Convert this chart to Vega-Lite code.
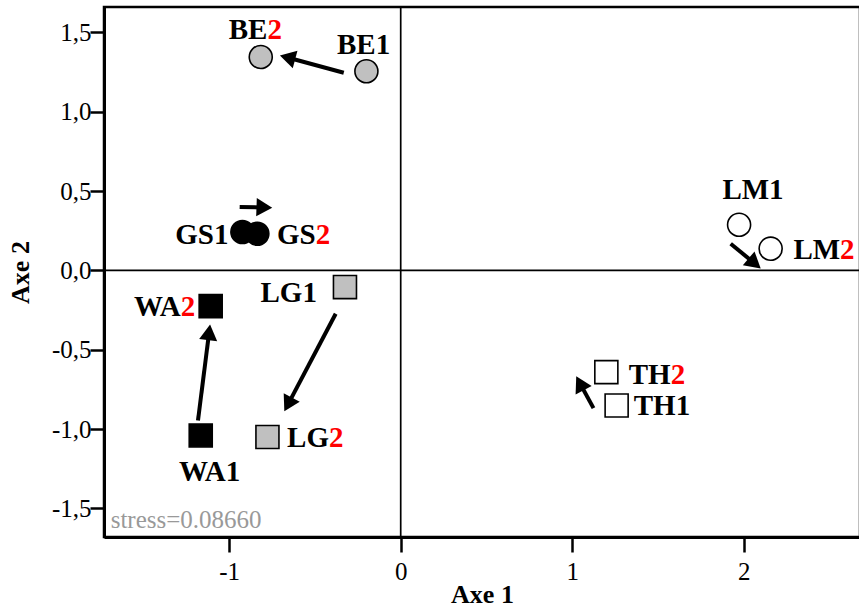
{
  "$schema": "https://vega.github.io/schema/vega-lite/v6.json",
  "width": 756,
  "height": 530,
  "autosize": {"type": "none"},
  "padding": {"left": 104, "top": 7, "right": 0, "bottom": 75},
  "background": "white",
  "config": {
    "view": {"stroke": "black", "strokeWidth": 2.5},
    "font": "Liberation Serif",
    "axis": {
      "grid": false,
      "domainColor": "black", "domainWidth": 3,
      "tickColor": "black", "tickWidth": 2.5,
      "labelFont": "Liberation Serif", "labelFontSize": 25, "labelColor": "black",
      "titleFont": "Liberation Serif", "titleFontSize": 26, "titleFontWeight": "bold", "titleColor": "black"
    }
  },
  "datasets": {
    "points": [
      {"id": "BE1", "g": "BE", "x": -0.200, "y": 1.255},
      {"id": "BE2", "g": "BE", "x": -0.816, "y": 1.345},
      {"id": "GS1", "g": "GS", "x": -0.923, "y": 0.242},
      {"id": "GS2", "g": "GS", "x": -0.836, "y": 0.231},
      {"id": "LM1", "g": "LM", "x": 1.973, "y": 0.288},
      {"id": "LM2", "g": "LM", "x": 2.157, "y": 0.137},
      {"id": "TH1", "g": "TH", "x": 1.259, "y": -0.851},
      {"id": "TH2", "g": "TH", "x": 1.199, "y": -0.641},
      {"id": "WA1", "g": "WA", "x": -1.166, "y": -1.040},
      {"id": "WA2", "g": "WA", "x": -1.108, "y": -0.225},
      {"id": "LG1", "g": "LG", "x": -0.325, "y": -0.105},
      {"id": "LG2", "g": "LG", "x": -0.777, "y": -1.050}
    ],
    "arrows": [
      {"g": "BE", "x": -0.332, "y": 1.246, "x2": -0.660, "y2": 1.342, "heading": 285},
      {"g": "GS", "x": -0.939, "y": 0.400, "x2": -0.795, "y2": 0.397, "heading": 92},
      {"g": "WA", "x": -1.182, "y": -0.946, "x2": -1.117, "y2": -0.390, "heading": 7},
      {"g": "LG", "x": -0.379, "y": -0.273, "x2": -0.657, "y2": -0.844, "heading": 208},
      {"g": "LM", "x": 1.924, "y": 0.168, "x2": 2.064, "y2": 0.044, "heading": 130},
      {"g": "TH", "x": 1.124, "y": -0.868, "x2": 1.045, "y2": -0.711, "heading": 332}
    ],
    "labels": [
      {"base": "BE", "num": "2", "lx": -0.777, "ly": 1.461},
      {"base": "BE", "num": "1", "lx": -0.146, "ly": 1.366},
      {"base": "GS", "num": "1", "lx": -1.089, "ly": 0.168},
      {"base": "GS", "num": "2", "lx": -0.496, "ly": 0.168},
      {"base": "WA", "num": "2", "lx": -1.283, "ly": -0.290},
      {"base": "WA", "num": "1", "lx": -1.020, "ly": -1.324},
      {"base": "LG", "num": "1", "lx": -0.573, "ly": -0.199},
      {"base": "LG", "num": "2", "lx": -0.418, "ly": -1.113},
      {"base": "LM", "num": "1", "lx": 2.148, "ly": 0.452},
      {"base": "LM", "num": "2", "lx": 2.562, "ly": 0.069},
      {"base": "TH", "num": "2", "lx": 1.574, "ly": -0.714},
      {"base": "TH", "num": "1", "lx": 1.603, "ly": -0.914}
    ],
    "zero": [{"v": 0}],
    "stress": [{"t": "stress=0.08660", "x": -1.691, "y": -1.622}]
  },
  "layer": [
    {
      "data": {"name": "points"},
      "mark": {"type": "point", "filled": true, "size": 530, "stroke": "black", "strokeWidth": 1.6, "opacity": 0},
      "encoding": {
        "x": {
          "field": "x", "type": "quantitative",
          "scale": {"domain": [-1.73, 2.678], "nice": false, "zero": false},
          "axis": {
            "title": "Axe 1",
            "values": [-1, 0, 1, 2],
            "tickSize": 15,
            "labelPadding": 7,
            "labelExpr": "replace(format(datum.value, 'd'), '\u2212', '-')",
            "titlePadding": -3
          }
        },
        "y": {
          "field": "y", "type": "quantitative",
          "scale": {"domain": [-1.68, 1.66], "nice": false, "zero": false},
          "axis": {
            "title": "Axe 2",
            "values": [-1.5, -1, -0.5, 0, 0.5, 1, 1.5],
            "tickSize": 14,
            "labelPadding": -1,
            "labelExpr": "replace(replace(format(datum.value, '.1f'), '.', ','), '\u2212', '-')",
            "titlePadding": 18
          }
        }
      }
    },
    {
      "data": {"name": "zero"},
      "mark": {"type": "rule", "color": "black", "strokeWidth": 1.7},
      "encoding": {
        "x": {"field": "v", "type": "quantitative"}
      }
    },
    {
      "data": {"name": "zero"},
      "mark": {"type": "rule", "color": "black", "strokeWidth": 1.7},
      "encoding": {
        "y": {"field": "v", "type": "quantitative"}
      }
    },
    {
      "data": {"name": "arrows"},
      "mark": {"type": "rule", "color": "black", "strokeWidth": 4},
      "encoding": {
        "x": {"field": "x", "type": "quantitative"},
        "y": {"field": "y", "type": "quantitative"},
        "x2": {"field": "x2"},
        "y2": {"field": "y2"}
      }
    },
    {
      "data": {"name": "arrows"},
      "mark": {"type": "point", "shape": "triangle-up", "filled": true, "color": "black", "size": 330, "opacity": 1},
      "encoding": {
        "x": {"field": "x2", "type": "quantitative"},
        "y": {"field": "y2", "type": "quantitative"},
        "angle": {"field": "heading", "type": "quantitative", "scale": null}
      }
    },
    {
      "data": {"name": "points"},
      "mark": {"type": "point", "filled": true, "size": 530, "stroke": "black", "strokeWidth": 1.6, "opacity": 1},
      "encoding": {
        "x": {"field": "x", "type": "quantitative"},
        "y": {"field": "y", "type": "quantitative"},
        "shape": {
          "field": "g", "type": "nominal", "legend": null,
          "scale": {"domain": ["BE", "GS", "LM", "TH", "WA", "LG"], "range": ["circle", "circle", "circle", "square", "square", "square"]}
        },
        "fill": {
          "field": "g", "type": "nominal", "legend": null,
          "scale": {"domain": ["BE", "GS", "LM", "TH", "WA", "LG"], "range": ["#c0c0c0", "#000000", "#ffffff", "#ffffff", "#000000", "#c0c0c0"]}
        }
      }
    },
    {
      "data": {"name": "labels"},
      "mark": {"type": "text", "align": "right", "baseline": "alphabetic", "fontSize": 29, "fontWeight": "bold", "font": "Liberation Serif", "color": "black"},
      "encoding": {
        "x": {"field": "lx", "type": "quantitative"},
        "y": {"field": "ly", "type": "quantitative"},
        "text": {"field": "base"}
      }
    },
    {
      "data": {"name": "labels"},
      "mark": {"type": "text", "align": "left", "baseline": "alphabetic", "fontSize": 29, "fontWeight": "bold", "font": "Liberation Serif"},
      "encoding": {
        "x": {"field": "lx", "type": "quantitative"},
        "y": {"field": "ly", "type": "quantitative"},
        "text": {"field": "num"},
        "color": {
          "field": "num", "type": "nominal", "legend": null,
          "scale": {"domain": ["1", "2"], "range": ["#000000", "#ff0000"]}
        }
      }
    },
    {
      "data": {"name": "stress"},
      "mark": {"type": "text", "align": "left", "baseline": "alphabetic", "fontSize": 25, "font": "Liberation Serif", "color": "#999999"},
      "encoding": {
        "x": {"field": "x", "type": "quantitative"},
        "y": {"field": "y", "type": "quantitative"},
        "text": {"field": "t"}
      }
    }
  ]
}
